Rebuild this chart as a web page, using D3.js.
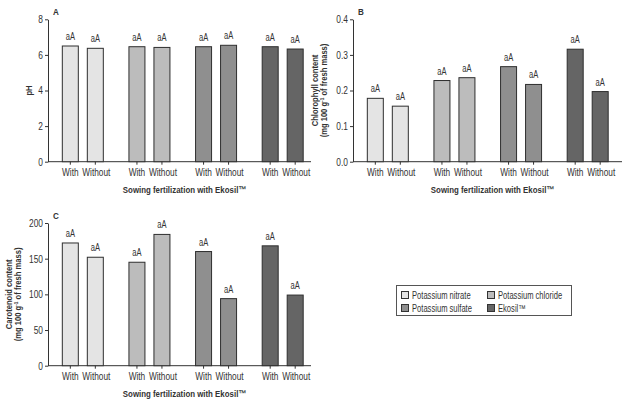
<!DOCTYPE html>
<html><head><meta charset="utf-8">
<script src="https://cdn.jsdelivr.net/npm/d3@7"></script>
<style>
body{margin:0;background:#fff;}
text{font-family:"Liberation Sans",Arial,sans-serif;fill:#333;}
</style></head>
<body><svg id="c" width="624" height="400"></svg>
<script>
const groups = ["Potassium nitrate","Potassium chloride","Potassium sulfate","Ekosil™"];
const treatments = ["With","Without"];
const colors = ["#e4e4e4","#bcbcbc","#8f8f8f","#656565"];
// values: [With, Without] per group
const phValues = [[6.50,6.37],[6.46,6.42],[6.46,6.54],[6.46,6.33]];
const chlorophyllValues = [[0.178,0.156],[0.228,0.236],[0.267,0.217],[0.316,0.197]];
const carotenoidValues = [[172,152],[145,184],[160,94],[168,99]];
const letters = [["aA","aA"],["aA","aA"],["aA","aA"],["aA","aA"]];
const phTicks = [0,2,4,6,8];
const chlTicks = [0,0.1,0.2,0.3,0.4];
const carTicks = [0,50,100,150,200];
const xTitle = "Sowing fertilization with Ekosil™";

const SX = 0.72;
const svg = d3.select("#c");

function txt(parent, x, y, s, opt={}){
  const rot = opt.rotate ? " rotate(-90)" : "";
  const t = parent.append("text")
    .attr("transform", `translate(${x},${y})${rot} scale(${opt.sx||SX},1)`)
    .attr("text-anchor", opt.anchor||"start")
    .attr("font-size", opt.size||10)
    .attr("font-weight", opt.bold ? "bold" : "normal")
    .attr("fill", opt.fill||"#444");
  if (s !== null) t.text(s);
  return t;
}

function panel(o){
  const g = svg.append("g");
  const y = d3.scaleLinear().domain(o.domain).range([o.y1, o.y0]);
  const x0 = d3.scaleBand().domain(groups).range([o.x0+1.5, o.x0+268]);
  const bw = x0.bandwidth();
  const x1 = d3.scaleBand().domain(treatments).range([bw/2-20.5, bw/2+20.5]).paddingInner(0.36);
  // y axis
  const ya = g.append("g").attr("transform",`translate(${o.x0},0)`)
    .call(d3.axisLeft(y).tickValues(o.ticks).tickFormat(o.fmt).tickSize(3).tickSizeOuter(0));
  ya.select(".domain").attr("stroke","#333");
  ya.selectAll(".tick line").attr("stroke","#333");
  ya.selectAll(".tick text").attr("font-size",10.5).attr("fill","#444")
    .attr("x",-5/0.8).attr("transform","scale(0.8,1)")
    .style("font-family","'Liberation Sans',Arial,sans-serif");
  // x axis line
  g.append("line").attr("x1",o.x0).attr("x2",o.xEnd).attr("y1",o.y1).attr("y2",o.y1).attr("stroke","#333");
  // bars
  groups.forEach((grp,gi)=>{
    treatments.forEach((t,ti)=>{
      const v = o.values[gi][ti];
      const bx = x0(grp)+x1(t);
      const cx = bx+x1.bandwidth()/2;
      g.append("rect").attr("x",bx).attr("y",y(v)).attr("width",x1.bandwidth()).attr("height",y(0)-y(v))
        .attr("fill",colors[gi]).attr("stroke","#2e2e2e").attr("stroke-width",1);
      txt(g, cx, y(v)-6, letters[gi][ti], {anchor:"middle", size:10.5});
      g.append("line").attr("x1",cx).attr("x2",cx)
        .attr("y1",o.y1).attr("y2",o.y1+3).attr("stroke","#333");
      txt(g, cx + (ti ? 1 : 0), o.y1+14, t, {anchor:"middle", size:10.5, sx:0.79});
    });
  });
  // x title
  txt(g, (o.x0+o.xEnd)/2+5, o.y1+31, xTitle, {anchor:"middle", size:9.5, bold:true, fill:"#333", sx:0.83});
  // panel letter
  txt(g, o.x0+5, o.y0-4, o.letter, {size:9, bold:true, fill:"#333", sx:0.9});
  // y title
  const cy = (o.y0+o.y1)/2;
  o.ylab.forEach((ln,i)=>{
    const t = txt(g, o.ylx+i*9, cy, null, {rotate:true, anchor:"middle", size:9.5, bold:true, fill:"#333", sx:0.8});
    if (Array.isArray(ln)){
      t.append("tspan").text(ln[0]);
      t.append("tspan").attr("dy",-3).attr("font-size",6).text(ln[1]);
      t.append("tspan").attr("dy",3).text(ln[2]);
    } else t.text(ln);
  });
}

panel({x0:48,xEnd:311,y0:19.3,y1:161.7,domain:[0,8],ticks:phTicks,fmt:d3.format("d"),
  values:phValues,letter:"A",ylab:["pH"],ylx:32});
panel({x0:353,xEnd:622,y0:19.3,y1:161.7,domain:[0,0.4],ticks:chlTicks,fmt:d3.format(".1f"),
  values:chlorophyllValues,letter:"B",ylab:["Chlorophyll content",["(mg 100 g","-1"," of fresh mass)"]],ylx:318});
panel({x0:48,xEnd:311,y0:223,y1:365.7,domain:[0,200],ticks:carTicks,fmt:d3.format("d"),
  values:carotenoidValues,letter:"C",ylab:["Carotenoid content",["(mg 100 g","-1"," of fresh mass)"]],ylx:12});

// legend
const lg = svg.append("g");
lg.append("rect").attr("x",396.5).attr("y",285.5).attr("width",175).attr("height",30)
  .attr("fill","#fff").attr("stroke","#555");
groups.forEach((grp,i)=>{
  const col = i%2, row = Math.floor(i/2);
  const lx = col ? 487 : 401, ly = row ? 304 : 291;
  lg.append("rect").attr("x",lx+0.5).attr("y",ly+0.5).attr("width",7).attr("height",7)
    .attr("fill",colors[i]).attr("stroke","#333");
  txt(lg, lx+11, ly+7.5, grp, {size:10, sx:0.76});
});
</script></body></html>
